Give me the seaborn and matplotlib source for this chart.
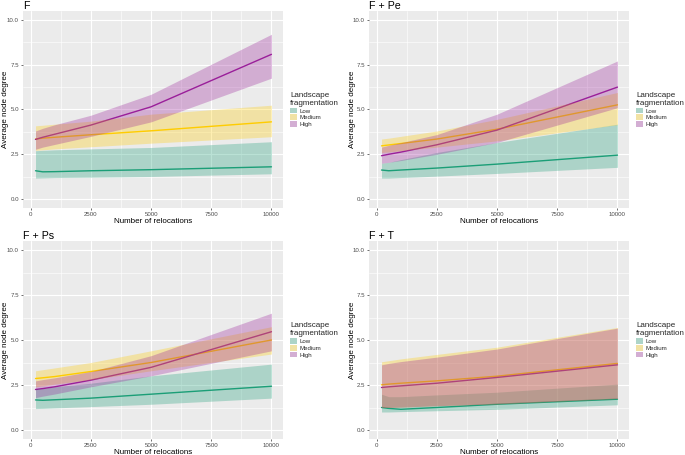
import numpy as np
import pandas as pd
import matplotlib
matplotlib.use("Agg")
import matplotlib.pyplot as plt
import seaborn as sns
from matplotlib.patches import Patch
from matplotlib.ticker import FixedLocator

# ---------------- data ----------------
relocations = [200, 500, 1000, 2500, 5000, 10000]
levels = ["Low", "Medium", "High"]
panel_titles = ["F", "F + Pe", "F + Ps", "F + T"]

# Panel F
f_low_mean = [1.58, 1.52, 1.53, 1.58, 1.64, 1.80]
f_low_lo = [1.17, 1.18, 1.20, 1.22, 1.26, 1.41]
f_low_hi = [2.70, 2.72, 2.75, 2.80, 2.88, 3.20]
f_med_mean = [3.35, 3.40, 3.45, 3.59, 3.81, 4.31]
f_med_lo = [2.72, 2.75, 2.80, 2.92, 3.12, 3.48]
f_med_hi = [4.09, 4.12, 4.18, 4.35, 4.74, 5.24]
f_high_mean = [3.33, 3.45, 3.62, 4.13, 5.15, 8.08]
f_high_lo = [2.78, 2.90, 3.05, 3.50, 4.31, 6.75]
f_high_hi = [3.80, 3.95, 4.15, 4.68, 5.85, 9.20]

# Panel F + Pe
pe_low_mean = [1.62, 1.58, 1.62, 1.73, 1.95, 2.45]
pe_low_lo = [1.17, 1.17, 1.20, 1.28, 1.43, 1.77]
pe_low_hi = [2.00, 2.05, 2.20, 2.60, 3.16, 4.18]
pe_med_mean = [2.97, 3.02, 3.10, 3.35, 3.90, 5.26]
pe_med_lo = [2.60, 2.63, 2.70, 2.90, 3.25, 4.15]
pe_med_hi = [3.35, 3.40, 3.50, 3.80, 4.45, 5.95]
pe_high_mean = [2.42, 2.50, 2.62, 3.03, 3.85, 6.25]
pe_high_lo = [2.00, 2.05, 2.15, 2.50, 3.16, 5.10]
pe_high_hi = [2.90, 3.00, 3.15, 3.60, 4.74, 7.71]

# Panel F + Ps
ps_low_mean = [1.67, 1.65, 1.68, 1.77, 1.99, 2.43]
ps_low_lo = [1.19, 1.20, 1.23, 1.30, 1.43, 1.77]
ps_low_hi = [2.27, 2.30, 2.40, 2.60, 3.01, 3.66]
ps_med_mean = [2.86, 2.90, 2.97, 3.25, 3.75, 5.00]
ps_med_lo = [2.40, 2.45, 2.55, 2.80, 3.29, 4.22]
ps_med_hi = [3.29, 3.35, 3.45, 3.75, 4.40, 5.74]
ps_high_mean = [2.25, 2.30, 2.40, 2.77, 3.48, 5.46]
ps_high_lo = [1.80, 1.88, 2.00, 2.40, 3.01, 4.40]
ps_high_hi = [2.73, 2.80, 2.90, 3.25, 4.13, 6.49]

# Panel F + T
t_low_mean = [1.25, 1.20, 1.15, 1.25, 1.43, 1.71]
t_low_lo = [1.00, 1.00, 1.02, 1.07, 1.15, 1.40]
t_low_hi = [1.99, 1.85, 1.85, 1.95, 2.10, 2.55]
t_med_mean = [2.51, 2.55, 2.60, 2.73, 2.99, 3.70]
t_med_lo = [1.25, 1.25, 1.27, 1.35, 1.45, 1.75]
t_med_hi = [3.79, 3.85, 3.95, 4.20, 4.60, 5.70]
t_high_mean = [2.36, 2.40, 2.45, 2.60, 2.92, 3.62]
t_high_lo = [1.25, 1.25, 1.27, 1.35, 1.45, 1.75]
t_high_hi = [3.62, 3.70, 3.80, 4.05, 4.50, 5.66]

x_ticks = [0, 2500, 5000, 7500, 10000]
x_tick_labels = ["0", "2500", "5000", "7500", "10000"]
y_ticks = [0.0, 2.5, 5.0, 7.5, 10.0]
y_tick_labels = ["0.0", "2.5", "5.0", "7.5", "10.0"]

panels = [
    [(f_low_mean, f_low_lo, f_low_hi), (f_med_mean, f_med_lo, f_med_hi), (f_high_mean, f_high_lo, f_high_hi)],
    [(pe_low_mean, pe_low_lo, pe_low_hi), (pe_med_mean, pe_med_lo, pe_med_hi), (pe_high_mean, pe_high_lo, pe_high_hi)],
    [(ps_low_mean, ps_low_lo, ps_low_hi), (ps_med_mean, ps_med_lo, ps_med_hi), (ps_high_mean, ps_high_lo, ps_high_hi)],
    [(t_low_mean, t_low_lo, t_low_hi), (t_med_mean, t_med_lo, t_med_hi), (t_high_mean, t_high_lo, t_high_hi)],
]

palette = {"Low": "#1B9E77", "Medium": "#FFCC00", "High": "#9A1F9A"}
ALPHA = 0.3
BG = "#EBEBEB"

# ---------------- style ----------------
sns.set_theme(style="darkgrid", rc={"axes.facecolor": BG, "grid.color": "white"})
plt.rcParams["font.family"] = ["Liberation Sans", "DejaVu Sans"]

W, H = 685, 455
fig = plt.figure(figsize=(W / 100, H / 100), dpi=100)
fig.patch.set_facecolor("white")

# panel rectangles in pixels (left, top, width, height)
rects = [(23, 11, 260, 197), (369, 11, 260, 197), (23, 241, 260, 198), (369, 241, 260, 198)]


def blend(c):
    r, g, b = matplotlib.colors.to_rgb(c)
    br, bg_, bb = matplotlib.colors.to_rgb(BG)
    return (ALPHA * r + (1 - ALPHA) * br, ALPHA * g + (1 - ALPHA) * bg_, ALPHA * b + (1 - ALPHA) * bb)


for (l, t, w, h), title, pdata in zip(rects, panel_titles, panels):
    ax = fig.add_axes([l / W, 1 - (t + h) / H, w / W, h / H])
    rows = []
    for lev, (m, lo, hi) in zip(levels, pdata):
        for xv, mv, lv, hv in zip(relocations, m, lo, hi):
            rows.append({"relocations": xv, "degree": mv, "lo": lv, "hi": hv, "level": lev})
    df = pd.DataFrame(rows)
    sns.lineplot(data=df, x="relocations", y="degree", hue="level", hue_order=levels,
                 palette=palette, ax=ax, legend=False, linewidth=1.0, zorder=2)
    for lev in levels:
        sub = df[df["level"] == lev]
        ax.fill_between(sub["relocations"], sub["lo"], sub["hi"], color=palette[lev],
                        alpha=ALPHA, linewidth=0, zorder=3)

    ax.set_xlim(-320, 10480)
    ax.set_ylim(-0.5, 10.5)
    ax.xaxis.set_major_locator(FixedLocator(x_ticks))
    ax.set_xticklabels(x_tick_labels)
    ax.yaxis.set_major_locator(FixedLocator(y_ticks))
    ax.set_yticklabels(y_tick_labels)
    ax.xaxis.set_minor_locator(FixedLocator([1250, 3750, 6250, 8750]))
    ax.yaxis.set_minor_locator(FixedLocator([1.25, 3.75, 6.25, 8.75]))
    ax.grid(which="major", color="white", linewidth=0.8)
    ax.grid(which="minor", color="white", linewidth=0.4)
    ax.set_axisbelow(True)
    for s in ax.spines.values():
        s.set_visible(False)
    ax.tick_params(axis="both", which="major", labelsize=4.4, labelcolor="#4D4D4D",
                   length=1.4, width=0.5, color="#333333", pad=1.6, bottom=True, left=True)
    ax.tick_params(axis="both", which="minor", length=0)
    ax.set_xlabel("Number of relocations", fontsize=5.8, labelpad=0.8, color="black")
    ax.set_ylabel("Average node degree", fontsize=5.8, color="black")
    # y label right edge at ~9 px from the panel's figure-left side
    ax.yaxis.set_label_coords((9.5 - l) / w + 0.0 if False else (9.5 - 23) / w, 0.5)
    ax.set_title(title, loc="left", fontsize=7.7, pad=1.3, color="black")

    handles = [Patch(facecolor=blend(palette[lev]), edgecolor="none") for lev in levels]
    ax.legend(handles, levels, title="Landscape\nfragmentation", loc="center left",
              bbox_to_anchor=(1.027, 0.5), frameon=False, fontsize=4.4, title_fontsize=5.8,
              handlelength=1.15, handleheight=1.1, handletextpad=0.45, labelspacing=0.12,
              borderpad=0, borderaxespad=0, alignment="left")

fig.savefig("out.png", dpi=100, facecolor="white")
